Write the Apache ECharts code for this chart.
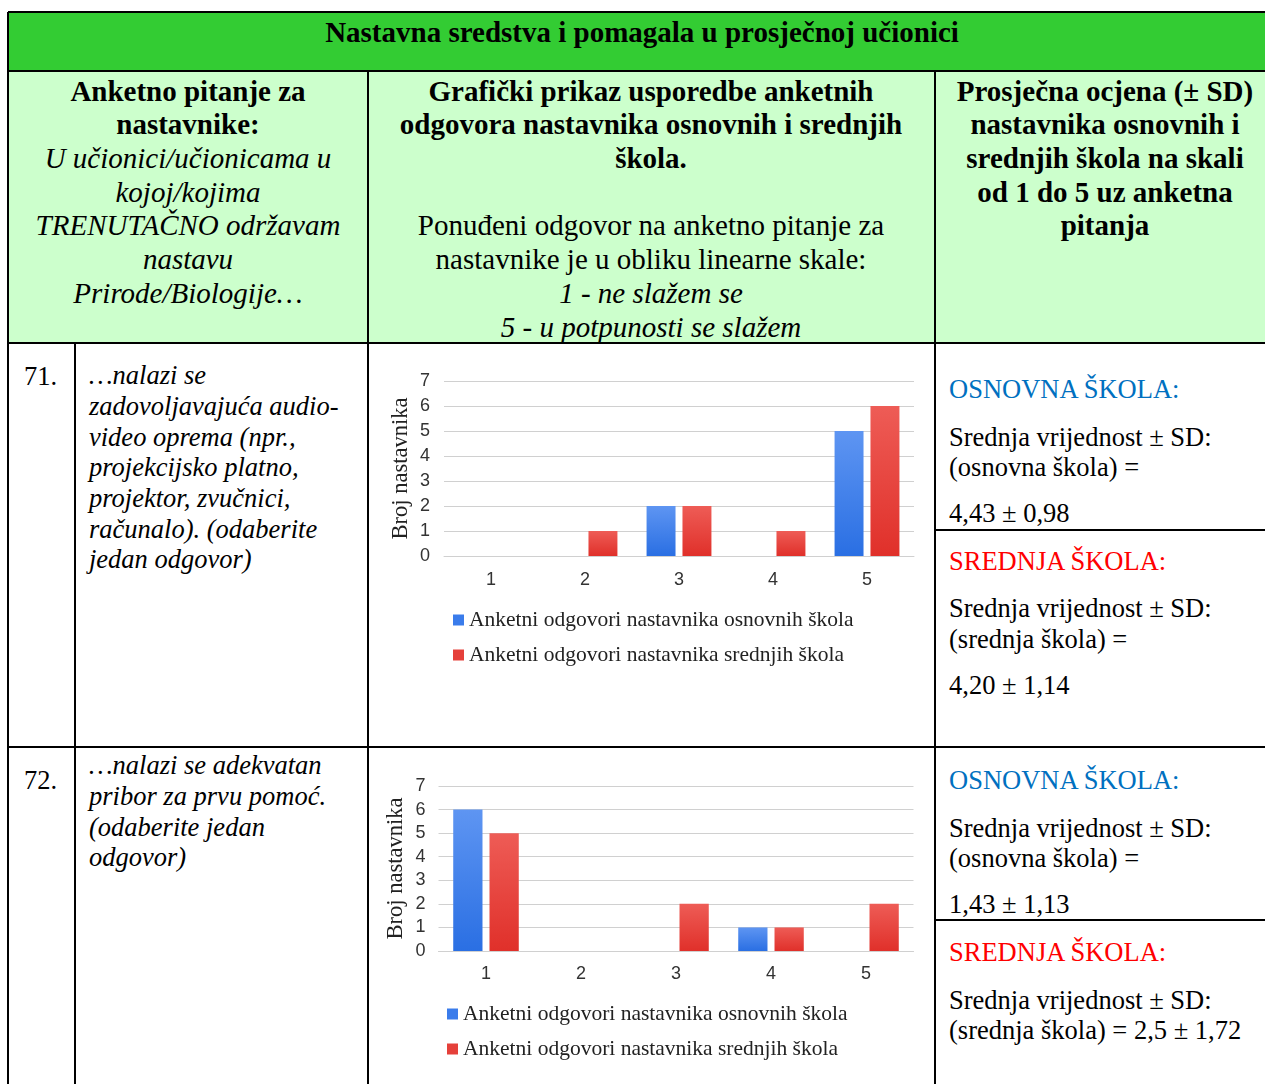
<!DOCTYPE html>
<html>
<head>
<meta charset="utf-8">
<script src="https://cdn.jsdelivr.net/npm/echarts@6/dist/echarts.min.js"></script>
<style>
html,body{margin:0;padding:0;background:#fff;}
body{width:1265px;height:1084px;position:relative;overflow:hidden;color:#000;}
.ln{position:absolute;white-space:nowrap;font-family:"Liberation Serif","Times New Roman",Times,serif;}
.hl{position:absolute;background:#000;height:2px;}
.vl{position:absolute;background:#000;width:2px;}
.chart{position:absolute;}
</style>
</head>
<body>
<div id="root"></div>
<div id="c71" class="chart" style="left:369px;top:345px;width:565px;height:400px;"></div>
<div id="c72" class="chart" style="left:369px;top:749px;width:565px;height:335px;"></div>
<script>
// ---------- data ----------
const categories = ['1', '2', '3', '4', '5'];
const seriesNames = ['Anketni odgovori nastavnika osnovnih škola', 'Anketni odgovori nastavnika srednjih škola'];
const q71Osnovne = [0, 0, 2, 0, 5];
const q71Srednje = [0, 1, 2, 1, 6];
const q72Osnovne = [6, 0, 0, 1, 0];
const q72Srednje = [5, 0, 2, 1, 2];
const yTicks = [0, 1, 2, 3, 4, 5, 6, 7];

const title = 'Nastavna sredstva i pomagala u prosječnoj učionici';
const col1Head = [['Anketno pitanje za','b'],['nastavnike:','b'],['U učionici/učionicama u','i'],['kojoj/kojima','i'],['TRENUTAČNO održavam','i'],['nastavu','i'],['Prirode/Biologije…','i']];
const col2Head = [['Grafički prikaz usporedbe anketnih','b'],['odgovora nastavnika osnovnih i srednjih','b'],['škola.','b'],['',''],['Ponuđeni odgovor na anketno pitanje za','n'],['nastavnike je u obliku linearne skale:','n'],['1 - ne slažem se','i'],['5 - u potpunosti se slažem','i']];
const col3Head = ['Prosječna ocjena (± SD)','nastavnika osnovnih i','srednjih škola na skali','od 1 do 5 uz anketna','pitanja'];
const q71Text = ['…nalazi se','zadovoljavajuća audio-','video oprema (npr.,','projekcijsko platno,','projektor, zvučnici,','računalo). (odaberite','jedan odgovor)'];
const q72Text = ['…nalazi se adekvatan','pribor za prvu pomoć.','(odaberite jedan','odgovor)'];
const q71Stats = {osn: ['Srednja vrijednost ± SD:', '(osnovna škola) =', '4,43 ± 0,98'], sre: ['Srednja vrijednost ± SD:', '(srednja škola) =', '4,20 ± 1,14']};
const q72Stats = {osn: ['Srednja vrijednost ± SD:', '(osnovna škola) =', '1,43 ± 1,13'], sre: ['Srednja vrijednost ± SD:', '(srednja škola) = 2,5 ± 1,72']};

// ---------- table layout ----------
const SERIF = '"Liberation Serif","Times New Roman",Times,serif';
const root = document.getElementById('root');
function box(l,t,w,h,bg){const d=document.createElement('div');d.style.cssText=`position:absolute;left:${l}px;top:${t}px;width:${w}px;height:${h}px;background:${bg}`;root.appendChild(d);}
function hl(x1,x2,y){const d=document.createElement('div');d.className='hl';d.style.left=x1+'px';d.style.width=(x2-x1)+'px';d.style.top=(y-1)+'px';root.appendChild(d);}
function vl(x,y1,y2){const d=document.createElement('div');d.className='vl';d.style.left=(x-1)+'px';d.style.top=y1+'px';d.style.height=(y2-y1)+'px';root.appendChild(d);}
function line(text,x,yc,opts){
  const d=document.createElement('div');d.className='ln';
  const fs=opts.fs||24, lh=fs*1.2;
  d.textContent=text;
  d.style.fontFamily=SERIF;
  d.style.fontSize=fs+'px';d.style.lineHeight=lh+'px';d.style.top=(yc-lh/2)+'px';
  if(opts.b)d.style.fontWeight='bold';
  if(opts.i)d.style.fontStyle='italic';
  if(opts.color)d.style.color=opts.color;
  if(opts.center){d.style.left=(x-400)+'px';d.style.width='800px';d.style.textAlign='center';}
  else d.style.left=x+'px';
  root.appendChild(d);
}
box(8,12,1270,59,'#33CC33');
box(8,71,1270,272,'#CCFFCC');

line(title,642,32,{fs:29,b:true,center:true});
col1Head.forEach((l,k)=>line(l[0],188,91+k*33.7,{fs:29,b:l[1]==='b',i:l[1]==='i',center:true}));
col2Head.forEach((l,k)=>{if(l[0])line(l[0],651,91+k*33.7,{fs:29,b:l[1]==='b',i:l[1]==='i',center:true});});
col3Head.forEach((l,k)=>line(l,1105,91+k*33.7,{fs:29,b:true,center:true}));

line('71.',24,377,{fs:26.5});
q71Text.forEach((l,k)=>line(l,89,376+k*30.7,{fs:26.5,i:true}));
line('72.',24,781,{fs:26.5});
q72Text.forEach((l,k)=>line(l,89,766+k*30.7,{fs:26.5,i:true}));

function stats(s,osnY,sreY){
  line('OSNOVNA ŠKOLA:',949,osnY[0],{fs:26.5,color:'#0070C0'});
  s.osn.forEach((t,k)=>line(t,949,osnY[k+1],{fs:26.5}));
  line('SREDNJA ŠKOLA:',949,sreY[0],{fs:26.5,color:'#FF0000'});
  s.sre.forEach((t,k)=>line(t,949,sreY[k+1],{fs:26.5}));
}
stats(q71Stats,[390,438,468,514],[562,609,640,686]);
stats(q72Stats,[781,829,859,905],[953,1001,1031]);

hl(8,1270,12); hl(8,1270,71); hl(8,1270,343); hl(8,1270,747);
hl(935,1270,530); hl(935,1270,920);
vl(8,12,1090); vl(368,71,1090); vl(935,71,1090); vl(75,343,1090);

// ---------- charts ----------
const SERIF_C = '"Liberation Serif", "Times New Roman", serif';
const SANS_C = '"Liberation Sans", Arial, sans-serif';
function grad(top,bot){return new echarts.graphic.LinearGradient(0,0,0,1,[{offset:0,color:top},{offset:1,color:bot}]);}
const blue = grad('#5E95F2','#2A6FE3');
const red = grad('#EE5C56','#E0302A');
function makeChart(id,osn,sre,g,leg){
  const ch = echarts.init(document.getElementById(id),null,{renderer:'canvas'});
  ch.setOption({
    animation:false,
    grid:{left:g.left,right:g.right,top:g.top,height:g.height,containLabel:false},
    legend:{orient:'vertical',left:leg.left,top:leg.top,itemGap:leg.gap,itemWidth:11,itemHeight:11,icon:'rect',
      textStyle:{fontFamily:SERIF_C,fontSize:21.5,color:'#222',padding:[0,0,0,0]},
      data:[{name:seriesNames[0],itemStyle:{color:'#3A7CEB'}},{name:seriesNames[1],itemStyle:{color:'#E5403A'}}]},
    xAxis:{type:'category',data:categories,axisTick:{show:false},
      axisLine:{show:true,lineStyle:{color:'#d0d0d0',width:1}},
      axisLabel:{fontFamily:SANS_C,fontSize:18,color:'#333',margin:g.xm}},
    yAxis:{type:'value',min:yTicks[0],max:yTicks[yTicks.length-1],interval:1,
      name:'Broj nastavnika',nameLocation:'middle',nameGap:g.ng,nameRotate:90,nameMoveOverlap:false,
      nameTextStyle:{fontFamily:SERIF_C,fontSize:22.5,color:'#222'},
      axisLine:{show:false},axisTick:{show:false},
      axisLabel:{fontFamily:SANS_C,fontSize:18,color:'#333',margin:g.ym},
      splitLine:{lineStyle:{color:'#d0d0d0',width:1}}},
    series:[
      {name:seriesNames[0],type:'bar',data:osn,itemStyle:{color:blue},barCategoryGap:'31%',barGap:'24%'},
      {name:seriesNames[1],type:'bar',data:sre,itemStyle:{color:red},barCategoryGap:'31%',barGap:'24%'}
    ]
  });
}
makeChart('c71',q71Osnovne,q71Srednje,{left:75,right:20,top:36,height:175,xm:15,ym:14,ng:31},{left:79,top:259,gap:13});
makeChart('c72',q72Osnovne,q72Srednje,{left:69.5,right:20.5,top:37,height:165,xm:14,ym:13,ng:31},{left:73,top:249,gap:13});
</script>
</body>
</html>
